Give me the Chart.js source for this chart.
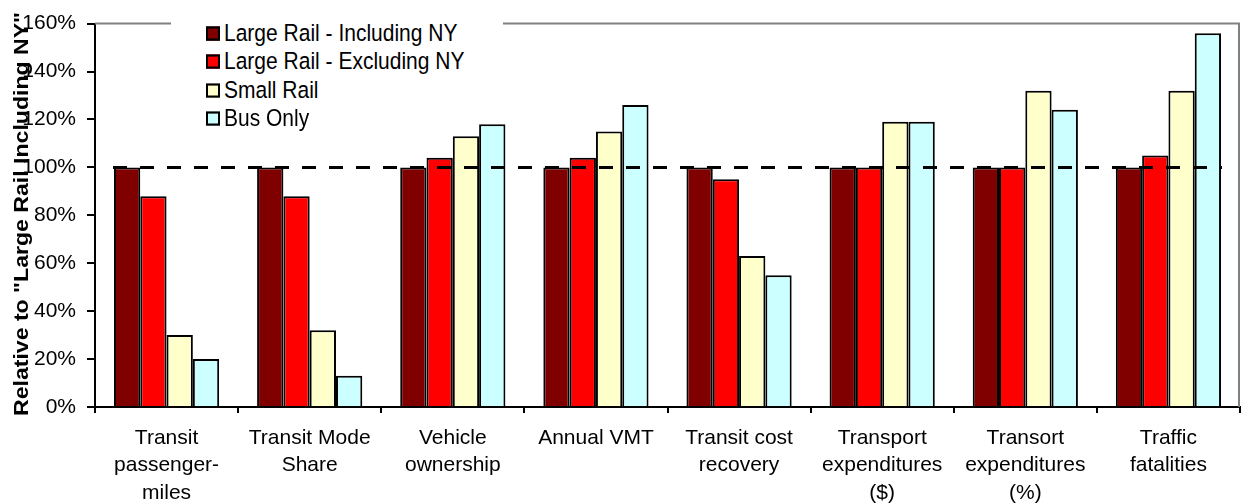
<!DOCTYPE html>
<html>
<head>
<meta charset="utf-8">
<script src="https://cdn.jsdelivr.net/npm/chart.js@4"></script>
<style>
  body { margin: 0; background: #fff; }
  #wrap { position: relative; width: 1241px; height: 504px; }
  #legend {
    position: absolute; left: 171px; top: 6px; width: 332px; height: 115px;
    background: #fff; font-family: Arial, "Liberation Sans", sans-serif; font-size: 21px;
  }
  #legend div {
    position: absolute; left: 35px; height: 24px; line-height: 24px; white-space: nowrap;
    transform: scaleY(1.1); transform-origin: left center;
  }
  #legend span.box {
    display: inline-block; width: 10px; height: 9px; border: 2px solid #000;
    vertical-align: 0px; margin-right: 4px;
  }
</style>
</head>
<body>
<div id="wrap">
  <canvas id="myChart"></canvas>
  <div id="legend"></div>
</div>
<script>
const categories = [
  ['Transit', 'passenger-', 'miles'],
  ['Transit Mode', 'Share'],
  ['Vehicle', 'ownership'],
  ['Annual VMT'],
  ['Transit cost', 'recovery'],
  ['Transport', 'expenditures', '($)'],
  ['Transort', 'expenditures', '(%)'],
  ['Traffic', 'fatalities']
];
const seriesNames = ['Large Rail - Including NY', 'Large Rail - Excluding NY', 'Small Rail', 'Bus Only'];
const largeRailIncl = [100, 100, 100, 100, 100, 100, 100, 100];
const largeRailExcl = [88, 88, 104, 104, 95, 100, 100, 105];
const smallRail = [30, 32, 113, 115, 63, 119, 132, 132];
const busOnly = [20, 13, 118, 126, 55, 119, 124, 156];
const referenceLevel = 100;
const yTicks = [0, 20, 40, 60, 80, 100, 120, 140, 160];
const colors = ['#800000', '#FF0000', '#FFFFCC', '#CCFFFF'];

const font = 'Arial, "Liberation Sans", sans-serif';
const yTitle = 'Relative to "Large Rail Including NY"';

// legend inside the plot, on top of the border line
const legend = document.getElementById('legend');
seriesNames.forEach((name, i) => {
    const d = document.createElement('div');
    d.style.top = (15 + i * 28.3) + 'px';
    d.innerHTML = `<span class="box" style="background:${colors[i]}"></span>${name}`;
    legend.appendChild(d);
});

const extras = {
    id: 'extras',
    beforeDatasetsDraw(chart) {
        const { ctx, chartArea: a } = chart;
        ctx.save();
        ctx.strokeStyle = '#808080';
        ctx.lineWidth = 2;
        ctx.beginPath();
        ctx.moveTo(a.left, a.top);
        ctx.lineTo(a.right - 1, a.top);
        ctx.lineTo(a.right - 1, a.bottom);
        ctx.stroke();
        ctx.restore();
    },
    afterDatasetsDraw(chart) {
        const { ctx, chartArea: a, scales } = chart;
        const y = scales.y.getPixelForValue(referenceLevel);
        ctx.save();
        ctx.strokeStyle = '#000';
        ctx.lineWidth = 3;
        ctx.setLineDash([14, 13]);
        ctx.beginPath();
        ctx.moveTo(a.left + 18, y);
        ctx.lineTo(a.right - 18, y);
        ctx.stroke();
        ctx.restore();
    },
    afterDraw(chart) {
        const { ctx } = chart;
        ctx.save();
        ctx.font = 'bold 21px ' + font;
        const w = ctx.measureText(yTitle).width;
        ctx.translate(28, 214);
        ctx.rotate(-Math.PI / 2);
        ctx.scale(404 / w, 1);
        ctx.fillStyle = '#000';
        ctx.textAlign = 'center';
        ctx.textBaseline = 'alphabetic';
        ctx.fillText(yTitle, 0, 0);
        ctx.restore();
    }
};

const ctx = document.getElementById('myChart');
const myChart = new Chart(ctx, {
    type: 'bar',
    data: {
        labels: categories,
        datasets: [largeRailIncl, largeRailExcl, smallRail, busOnly].map((data, i) => ({
            label: seriesNames[i],
            data: data,
            backgroundColor: colors[i],
            borderColor: '#000',
            borderWidth: 2,
            categoryPercentage: 0.735,
            barPercentage: 1
        }))
    },
    options: {
        responsive: true,
        maintainAspectRatio: false,
        animation: false,
        layout: { padding: { top: 20, right: 1, left: 0, bottom: 0 } },
        plugins: {
            legend: { display: false },
            tooltip: { enabled: false }
        },
        scales: {
            x: {
                afterFit: s => { s.height = 97; },
                grid: {
                    display: true, drawOnChartArea: false, drawTicks: true,
                    tickLength: 6, color: '#000', lineWidth: 2
                },
                border: { color: '#000', width: 2 },
                ticks: {
                    color: '#000', padding: 12, maxRotation: 0, autoSkip: false,
                    font: { family: font, size: 21, lineHeight: 1.29 }
                }
            },
            y: {
                min: 0, max: 160,
                afterFit: s => { s.width = 95; },
                afterBuildTicks: s => { s.ticks = yTicks.map(v => ({ value: v })); },
                grid: {
                    display: true, drawOnChartArea: false, drawTicks: true,
                    tickLength: 8, color: '#000', lineWidth: 2
                },
                border: { color: '#000', width: 2 },
                ticks: {
                    color: '#000', padding: 11,
                    font: { family: font, size: 21 },
                    callback: v => v + '%'
                }
            }
        }
    },
    plugins: [extras]
});
</script>
</body>
</html>
